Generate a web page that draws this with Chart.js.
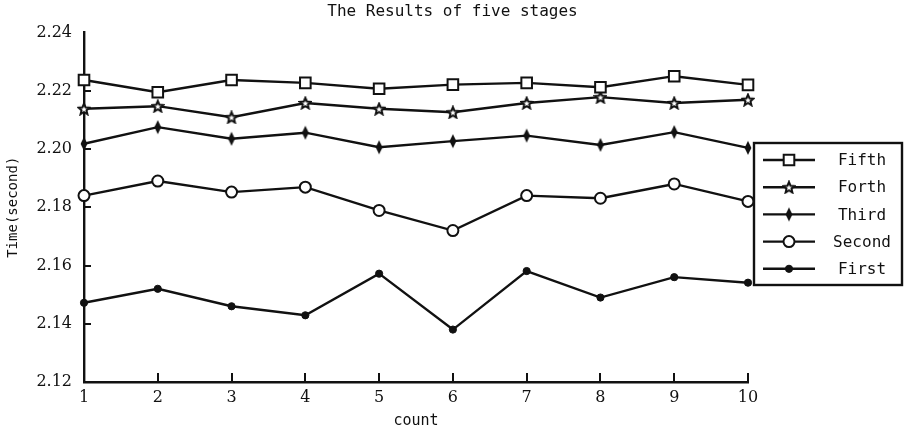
<!DOCTYPE html>
<html>
<head>
<meta charset="utf-8">
<script src="https://cdn.jsdelivr.net/npm/chart.js@4.4.1/dist/chart.umd.min.js"></script>
<style>
  html, body { margin: 0; padding: 0; background: #fff; }
  #wrap { width: 905px; height: 432px; }
</style>
</head>
<body>
<div id="wrap"><canvas id="c" width="905" height="432"></canvas></div>
<script>
// Run number on the x axis
const counts = ['1', '2', '3', '4', '5', '6', '7', '8', '9', '10'];

// Measured time (second) for each stage
const fifth  = [2.2237, 2.2195, 2.2237, 2.2227, 2.2207, 2.2221, 2.2227, 2.2212, 2.2250, 2.2220];
const forth  = [2.2138, 2.2147, 2.2109, 2.2158, 2.2138, 2.2126, 2.2158, 2.2178, 2.2158, 2.2169];
const third  = [2.2018, 2.2075, 2.2035, 2.2056, 2.2006, 2.2027, 2.2046, 2.2014, 2.2058, 2.2004];
const second = [2.1840, 2.1890, 2.1852, 2.1869, 2.1789, 2.1720, 2.1840, 2.1831, 2.1880, 2.1820];
const first  = [2.1472, 2.1520, 2.1460, 2.1429, 2.1572, 2.1380, 2.1581, 2.1490, 2.1560, 2.1541];

const stageNames = ['Fifth', 'Forth', 'Third', 'Second', 'First'];
const yTicks = [2.12, 2.14, 2.16, 2.18, 2.20, 2.22, 2.24];

const INK = '#111';
const MONO = '"DejaVu Sans Mono"';
const SERIF = '"DejaVu Serif"';

// Five-pointed outline star marker
function makeStar() {
  const c = document.createElement('canvas');
  c.width = 14; c.height = 14;
  const g = c.getContext('2d');
  g.beginPath();
  for (let i = 0; i < 10; i++) {
    const r = i % 2 === 0 ? 5.8 : 2.6;
    const a = -Math.PI / 2 + i * Math.PI / 5;
    const px = 7 + r * Math.cos(a), py = 7.6 + r * Math.sin(a);
    if (i === 0) g.moveTo(px, py); else g.lineTo(px, py);
  }
  g.closePath();
  g.fillStyle = '#fff'; g.fill();
  g.strokeStyle = INK; g.lineWidth = 2; g.stroke();
  return c;
}

// Narrow filled vertical diamond marker
function makeSpike() {
  const c = document.createElement('canvas');
  c.width = 10; c.height = 16;
  const g = c.getContext('2d');
  g.beginPath();
  g.moveTo(5, 1); g.lineTo(8.4, 8); g.lineTo(5, 15); g.lineTo(1.6, 8);
  g.closePath();
  g.fillStyle = INK; g.fill();
  return c;
}

const starMark = makeStar();
const spikeMark = makeSpike();

function series(label, data, style, radius, fill, bw) {
  return {
    label, data,
    borderColor: INK, borderWidth: 2.4,
    pointStyle: style, pointRadius: radius,
    pointBackgroundColor: fill, pointBorderColor: INK, pointBorderWidth: bw,
    tension: 0, clip: false
  };
}

// Small inward tick marks on both axes
const axisMarks = {
  id: 'axisMarks',
  afterDraw(chart) {
    const { ctx, chartArea: a, scales: { x, y } } = chart;
    ctx.save();
    ctx.strokeStyle = INK; ctx.lineWidth = 2;
    ctx.beginPath();
    yTicks.slice(1, -1).forEach(v => {
      const py = Math.round(y.getPixelForValue(v));
      ctx.moveTo(a.left, py); ctx.lineTo(a.left + 7, py);
    });
    counts.forEach((c, i) => {
      if (i === 0) return;
      const px = Math.round(x.getPixelForValue(i));
      ctx.moveTo(px, a.bottom); ctx.lineTo(px, a.bottom - 9);
    });
    ctx.stroke();
    ctx.restore();
  }
};

// Boxed legend with line + marker samples
const boxLegend = {
  id: 'boxLegend',
  afterDraw(chart) {
    const ctx = chart.ctx;
    const L = 754, T = 143, R = 902, B = 285;
    ctx.save();
    ctx.fillStyle = '#fff';
    ctx.fillRect(L, T, R - L, B - T);
    ctx.strokeStyle = INK; ctx.lineWidth = 2.4;
    ctx.strokeRect(L, T, R - L, B - T);
    chart.data.datasets.forEach((ds, i) => {
      const yy = 160 + i * 27.2;
      ctx.beginPath();
      ctx.moveTo(763, yy); ctx.lineTo(815, yy);
      ctx.strokeStyle = ds.borderColor; ctx.lineWidth = 2.4; ctx.stroke();
      ctx.fillStyle = ds.pointBackgroundColor;
      ctx.strokeStyle = ds.pointBorderColor;
      ctx.lineWidth = ds.pointBorderWidth;
      Chart.helpers.drawPoint(ctx, {
        pointStyle: ds.pointStyle, radius: ds.pointRadius,
        borderWidth: ds.pointBorderWidth, rotation: 0
      }, 789, yy);
      ctx.fillStyle = INK;
      ctx.font = '16px ' + MONO;
      ctx.textAlign = 'center'; ctx.textBaseline = 'middle';
      ctx.fillText(ds.label, 862, yy + 1);
    });
    ctx.restore();
  }
};

new Chart(document.getElementById('c'), {
  type: 'line',
  data: {
    labels: counts,
    datasets: [
      series(stageNames[0], fifth,  'rect',   7.5, '#fff', 2),
      series(stageNames[1], forth,  starMark, 6,  '#fff', 2),
      series(stageNames[2], third,  spikeMark, 6, INK,    1),
      series(stageNames[3], second, 'circle', 5.5, '#fff', 2),
      series(stageNames[4], first,  'circle', 3.6, INK,    1)
    ]
  },
  options: {
    responsive: false,
    animation: false,
    devicePixelRatio: 1,
    layout: { padding: 0 },
    plugins: {
      legend: { display: false },
      tooltip: { enabled: false },
      title: {
        display: true,
        text: 'The Results of five stages',
        color: INK,
        font: { family: MONO, size: 16, weight: 'normal' },
        padding: { top: 2, bottom: 11.3 }
      }
    },
    scales: {
      x: {
        offset: false,
        grid: { display: false, drawTicks: false },
        border: { display: true, color: INK, width: 2.4 },
        ticks: {
          color: INK, padding: 6, maxRotation: 0, autoSkip: false,
          font: { family: SERIF, size: 16 }
        },
        title: {
          display: true, text: 'count', color: INK,
          font: { family: MONO, size: 15 },
          padding: { top: 0, bottom: 2 }
        },
        afterFit(scale) { scale.height = 50; }
      },
      y: {
        min: 2.12, max: 2.24,
        grid: { display: false, drawTicks: false },
        border: { display: true, color: INK, width: 2.4 },
        afterBuildTicks(scale) { scale.ticks = yTicks.map(v => ({ value: v })); },
        ticks: {
          color: INK, padding: 12,
          font: { family: SERIF, size: 16 },
          callback: v => Number(v).toFixed(2)
        },
        title: {
          display: true, text: 'Time(second)', color: INK,
          font: { family: MONO, size: 14 },
          padding: { top: 5, bottom: 0 }
        },
        afterFit(scale) { scale.width = 84; }
      },
      // empty right-hand strip that leaves room for the boxed legend
      side: {
        type: 'linear', position: 'right', min: 0, max: 1,
        grid: { display: false, drawTicks: false },
        border: { display: false },
        ticks: { display: false },
        afterFit(scale) { scale.width = 157; }
      }
    }
  },
  plugins: [axisMarks, boxLegend]
});
</script>
</body>
</html>
